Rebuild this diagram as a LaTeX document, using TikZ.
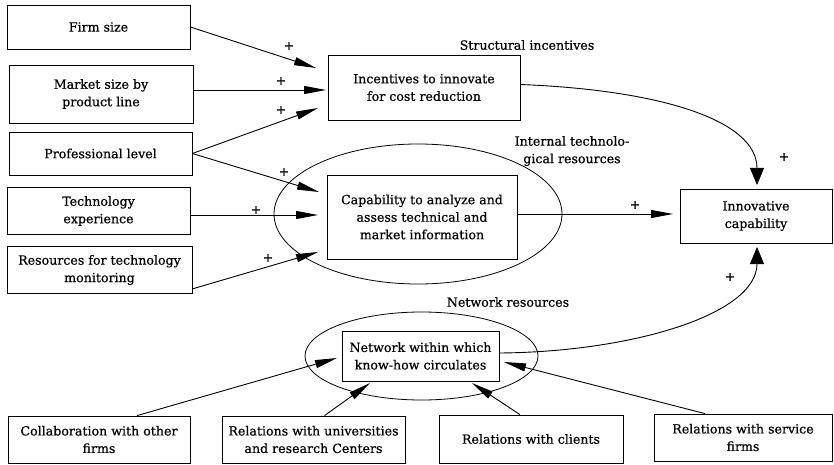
\documentclass[tikz,border=0pt]{standalone}
\usepackage{fontspec}
\setmainfont[FakeBold=0.6]{DejaVu Serif}
\usetikzlibrary{arrows.meta,shapes.geometric}
\newcommand{\myfs}{\fontsize{12.6}{17.5}\selectfont}
\begin{document}
\begin{tikzpicture}[x=1pt,y=-1pt,
  box/.style={draw, line width=0.8pt, align=center, inner sep=0pt, font=\myfs},
  oval/.style={draw, ellipse, line width=0.8pt, inner sep=0pt},
  lbl/.style={align=center, font=\myfs, inner sep=0pt},
  pl/.style={font=\myfs, inner sep=0pt},
  arr/.style={line width=0.9pt, -{Triangle[length=22pt,width=8pt]}},
  arrw/.style={line width=0.9pt, -{Triangle[length=17pt,width=14pt]}}]
\useasboundingbox (0,0) rectangle (834,465);
% left column
\node[box, minimum width=183pt, minimum height=44pt] (firm) at (98.5,27) {Firm size};
\node[box, minimum width=184pt, minimum height=58pt] (market) at (101,94) {Market size by\\product line};
\node[box, minimum width=183pt, minimum height=43pt] (prof) at (100.5,153.5) {Professional level};
\node[box, minimum width=183pt, minimum height=47pt] (tech) at (98.5,211) {Technology\\experience};
\node[box, minimum width=185pt, minimum height=47pt] (res) at (99.5,270) {Resources for technology\\monitoring};
% centre
\node[box, minimum width=192pt, minimum height=65pt] (inc) at (424,87.5) {Incentives to innovate\\for cost reduction};
\node[oval, minimum width=288pt, minimum height=140pt] (intE) at (418,214) {};
\node[box, minimum width=190pt, minimum height=84pt] (cap) at (422,217) {Capability to analyze and\\assess technical and\\market information};
\node[box, minimum width=152pt, minimum height=54pt] (innov) at (756,216) {Innovative\\capability};
\node[oval, minimum width=233pt, minimum height=88pt] (netE) at (421.5,356) {};
\node[box, minimum width=157pt, minimum height=50pt] (net) at (420.5,356) {Network within which\\know-how circulates};
% bottom row
\node[box, minimum width=182pt, minimum height=47pt] (collab) at (99,439.5) {Collaboration with other\\firms};
\node[box, minimum width=183pt, minimum height=47pt] (univ) at (313.5,439.5) {Relations with universities\\and research Centers};
\node[box, minimum width=184pt, minimum height=48pt] (clients) at (531,439) {Relations with clients};
\node[box, minimum width=178pt, minimum height=47pt] (service) at (743,437.5) {Relations with service\\firms};
% labels
\node[lbl] (lstruct) at (527,45) {Structural incentives};
\node[lbl] (lint) at (572,151) {Internal technolo-\\gical resources};
\node[lbl] (lnet) at (508,302) {Network resources};
% arrow tips
\coordinate (t1) at (316,68);
\coordinate (t2) at (326,90);
\coordinate (t3) at (318,108);
\coordinate (t4) at (319,192);
\coordinate (t5) at (318,215);
\coordinate (t6) at (318,252);
\coordinate (t7) at (673,214);
\coordinate (t8) at (757,185);
\coordinate (t9) at (757,247);
\coordinate (t10) at (337,358);
\coordinate (t11) at (370,383);
\coordinate (t12) at (472,383);
\coordinate (t13) at (504,362);
% connectors
\draw[arr] (firm.east) -- (t1);
\draw[arr] (market.east |- t2) -- (t2);
\draw[arr] (prof.east) -- (t3);
\draw[arr] (prof.east) -- (t4);
\draw[arr] (tech.east |- t5) -- (t5);
\draw[arr] ([yshift=5pt]res.south east) -- (t6);
\draw[arr] (cap.east |- t7) -- (t7);
\draw[arrw] ([yshift=3pt]inc.east) .. controls (660,90) and (757,120) .. (t8);
\draw[arrw] ([yshift=3pt]net.east) .. controls (630,352) and (757,315) .. (t9);
\draw[arr] ([xshift=38pt]collab.north) -- (t10);
\draw[arr] ([xshift=11pt]univ.north) -- (t11);
\draw[arr] ([xshift=-11pt]clients.north) -- (t12);
\draw[arr] ([xshift=-38pt]service.north) -- (t13);
% plus signs
\node[pl] (p1) at (289,46) {+};
\node[pl] (p2) at (281,81) {+};
\node[pl] (p3) at (281,110) {+};
\node[pl] (p4) at (284,172) {+};
\node[pl] (p5) at (256,210) {+};
\node[pl] (p6) at (268,258) {+};
\node[pl] (p7) at (635,205) {+};
\node[pl] (p8) at (784,157) {+};
\node[pl] (p9) at (730,277) {+};
\end{tikzpicture}
\end{document}
